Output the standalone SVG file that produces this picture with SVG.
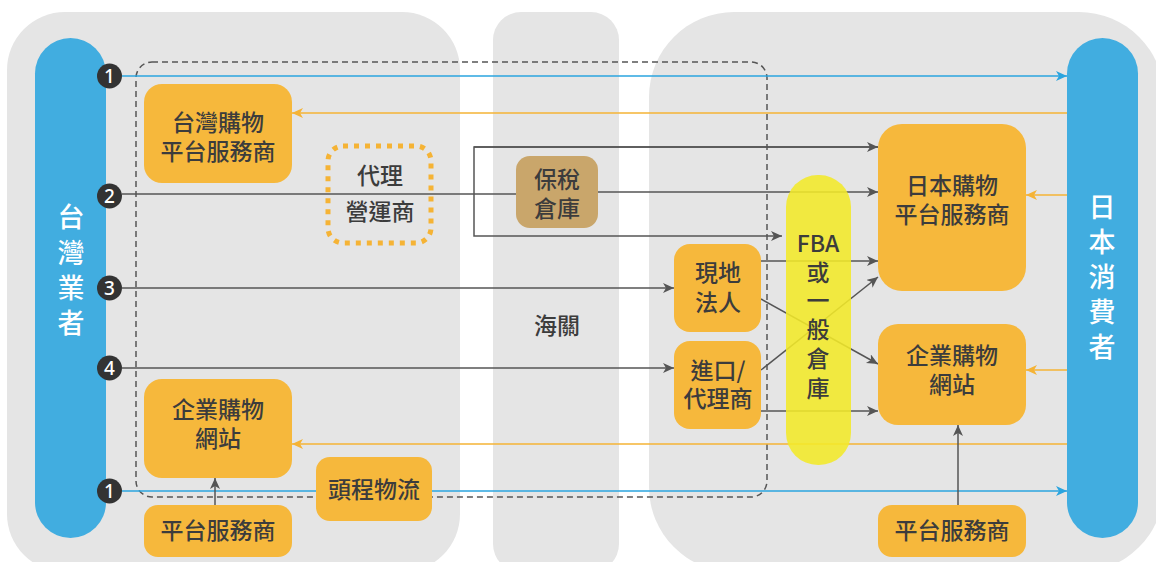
<svg xmlns="http://www.w3.org/2000/svg" width="1156" height="562" viewBox="0 0 1156 562">
<defs>
<style>
.panel{fill:#e5e5e5}
.pill{fill:#41ade0}
.box{fill:#f6b83c}
.t{font-family:"Noto Sans CJK TC","Noto Sans",sans-serif;font-size:23px;font-weight:500;fill:#3c3c3c;text-anchor:middle}
.w{font-family:"Noto Sans CJK TC","Noto Sans",sans-serif;font-size:27px;font-weight:500;fill:#ffffff;text-anchor:middle}
.num{font-family:"Noto Sans","DejaVu Sans",sans-serif;font-size:19px;font-weight:500;fill:#ffffff;text-anchor:middle}
.g{stroke:#555;stroke-width:1.5;fill:none}
.b{stroke:#2aa4df;stroke-width:1.5;fill:none}
.o{stroke:#f5b335;stroke-width:1.5;fill:none}
</style>
<marker id="ag" markerUnits="userSpaceOnUse" markerWidth="12" markerHeight="12" refX="11" refY="5" orient="auto"><path d="M0,0 L11,5 L0,10 L3,5 z" fill="#555"/></marker>
<marker id="ab" markerUnits="userSpaceOnUse" markerWidth="12" markerHeight="12" refX="11" refY="5" orient="auto"><path d="M0,0 L11,5 L0,10 L3,5 z" fill="#2aa4df"/></marker>
<marker id="ao" markerUnits="userSpaceOnUse" markerWidth="12" markerHeight="12" refX="11" refY="5" orient="auto"><path d="M0,0 L11,5 L0,10 L3,5 z" fill="#f5b335"/></marker>
</defs>
<rect width="1156" height="562" fill="#ffffff"/>
<g id="panels">
<rect class="panel" x="7" y="12" width="453" height="560" rx="58"/>
<rect class="panel" x="493" y="12" width="126" height="560" rx="28"/>
<rect class="panel" x="649" y="12" width="515" height="560" rx="85"/>
</g>
<rect id="scope" x="136" y="62" width="631" height="435" rx="16" fill="none" stroke="#555" stroke-width="1.5" stroke-dasharray="6 4"/>
<g id="connectors">
<line class="b" x1="122" y1="76" x2="1067" y2="76" marker-end="url(#ab)"/>
<line class="b" x1="122" y1="491" x2="1067" y2="491" marker-end="url(#ab)"/>
<line class="o" x1="1067" y1="113" x2="292" y2="113" marker-end="url(#ao)"/>
<line class="o" x1="1067" y1="444" x2="292" y2="444" marker-end="url(#ao)"/>
<line class="o" x1="1067" y1="195" x2="1026" y2="195" marker-end="url(#ao)"/>
<line class="o" x1="1067" y1="370" x2="1026" y2="370" marker-end="url(#ao)"/>
<line class="g" x1="122" y1="194" x2="516" y2="194"/>
<line class="g" x1="598" y1="192" x2="878" y2="192" marker-end="url(#ag)"/>
<path class="g" d="M878,147 H474 V236 H782" marker-end="url(#ag)"/>
<line class="g" x1="474" y1="147" x2="878" y2="147" marker-end="url(#ag)"/>
<line class="g" x1="122" y1="288" x2="674" y2="288" marker-end="url(#ag)"/>
<line class="g" x1="122" y1="368" x2="674" y2="368" marker-end="url(#ag)"/>
<line class="g" x1="761" y1="261" x2="878" y2="261" marker-end="url(#ag)"/>
<line class="g" x1="761" y1="299" x2="878" y2="364" marker-end="url(#ag)"/>
<line class="g" x1="761" y1="370" x2="878" y2="277" marker-end="url(#ag)"/>
<line class="g" x1="761" y1="411" x2="878" y2="411" marker-end="url(#ag)"/>
<line class="g" x1="958" y1="505" x2="958" y2="425" marker-end="url(#ag)"/>
<line class="g" x1="215" y1="505" x2="215" y2="478" marker-end="url(#ag)"/>
</g>
<g id="tw-business">
<rect class="pill" x="35" y="38" width="71" height="500" rx="35.5"/>
<text class="w" x="71" y="227">台</text>
<text class="w" x="71" y="263">灣</text>
<text class="w" x="71" y="298">業</text>
<text class="w" x="71" y="333">者</text>
</g>
<g id="jp-consumer">
<rect class="pill" x="1067" y="38" width="71" height="500" rx="35.5"/>
<text class="w" x="1102" y="217">日</text>
<text class="w" x="1102" y="252">本</text>
<text class="w" x="1102" y="287">消</text>
<text class="w" x="1102" y="322">費</text>
<text class="w" x="1102" y="357">者</text>
</g>
<g id="markers-num">
<circle cx="109.5" cy="76" r="12.5" fill="#333"/><text class="num" x="109.5" y="83">1</text>
<circle cx="109.5" cy="196" r="12.5" fill="#333"/><text class="num" x="109.5" y="203">2</text>
<circle cx="109.5" cy="288" r="12.5" fill="#333"/><text class="num" x="109.5" y="295">3</text>
<circle cx="109.5" cy="368" r="12.5" fill="#333"/><text class="num" x="109.5" y="375">4</text>
<circle cx="109.5" cy="491" r="12.5" fill="#333"/><text class="num" x="109.5" y="498">1</text>
</g>
<g id="tw-platform">
<rect class="box" x="144" y="84" width="148" height="99" rx="18"/>
<text class="t" x="218" y="131">台灣購物</text>
<text class="t" x="218" y="160">平台服務商</text>
</g>
<g id="agent-operator">
<rect x="328" y="146" width="103" height="97" rx="15" fill="none" stroke="#f5b335" stroke-width="5" stroke-dasharray="5 6"/>
<text class="t" x="380" y="184">代理</text>
<text class="t" x="380" y="220">營運商</text>
</g>
<g id="tw-b2b">
<rect class="box" x="144" y="379" width="148" height="99" rx="18"/>
<text class="t" x="218" y="418">企業購物</text>
<text class="t" x="218" y="447">網站</text>
</g>
<g id="tw-service">
<rect class="box" x="144" y="505" width="148" height="52" rx="14"/>
<text class="t" x="218" y="539">平台服務商</text>
</g>
<g id="first-mile">
<rect class="box" x="316" y="457" width="116" height="64" rx="14"/>
<text class="t" x="374" y="498">頭程物流</text>
</g>
<g id="bonded">
<rect x="516" y="156" width="82" height="72" rx="14" fill="#c9a66b"/>
<text class="t" x="557" y="188">保稅</text>
<text class="t" x="557" y="217">倉庫</text>
</g>
<g id="customs">
<text class="t" x="557" y="334">海關</text>
</g>
<g id="local-entity">
<rect class="box" x="674" y="244" width="87" height="88" rx="16"/>
<text class="t" x="718" y="281">現地</text>
<text class="t" x="718" y="311">法人</text>
</g>
<g id="importer">
<rect class="box" x="674" y="341" width="87" height="88" rx="16"/>
<text class="t" x="718" y="379">進口/</text>
<text class="t" x="718" y="407">代理商</text>
</g>
<g id="fba">
<rect x="786" y="175" width="65" height="290" rx="32" fill="#f3e929" fill-opacity="0.88"/>
<text class="t" x="818" y="252">FBA</text>
<text class="t" x="818" y="281">或</text>
<text class="t" x="818" y="309">一</text>
<text class="t" x="818" y="338">般</text>
<text class="t" x="818" y="367">倉</text>
<text class="t" x="818" y="397">庫</text>
</g>
<g id="jp-platform">
<rect class="box" x="878" y="124" width="148" height="167" rx="24"/>
<text class="t" x="952" y="194">日本購物</text>
<text class="t" x="952" y="223">平台服務商</text>
</g>
<g id="jp-b2b">
<rect class="box" x="878" y="324" width="148" height="101" rx="20"/>
<text class="t" x="952" y="364">企業購物</text>
<text class="t" x="952" y="393">網站</text>
</g>
<g id="jp-service">
<rect class="box" x="878" y="505" width="148" height="52" rx="14"/>
<text class="t" x="952" y="539">平台服務商</text>
</g>
</svg>
